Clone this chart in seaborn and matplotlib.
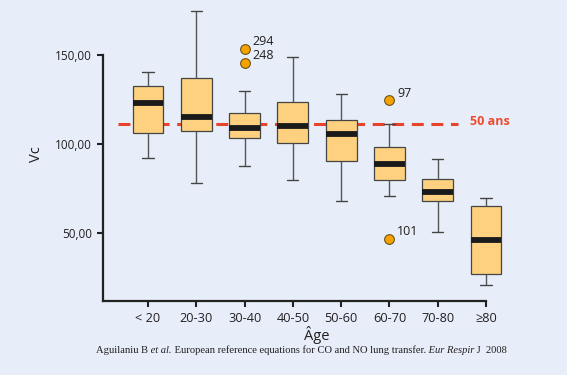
import matplotlib
matplotlib.use("Agg")
import matplotlib.pyplot as plt
import seaborn as sns
import pandas as pd
import numpy as np

# five-number summaries (Vc by age class)
age_groups = ["< 20", "20-30", "30-40", "40-50", "50-60", "60-70", "70-80", "≥80"]
whisker_low = [92.3, 78.3, 87.8, 79.6, 67.8, 71.0, 50.4, 20.9]
q1 = [106.0, 107.1, 103.4, 100.4, 90.6, 79.9, 67.8, 27.1]
median = [122.9, 115.2, 109.2, 110.1, 105.6, 88.8, 72.9, 46.1]
q3 = [132.4, 136.9, 117.6, 123.8, 113.3, 98.1, 80.3, 65.3]
whisker_high = [140.6, 174.6, 129.6, 149.0, 127.9, 111.2, 91.7, 69.8]

outlier_group = ["30-40", "30-40", "60-70", "60-70"]
outlier_value = [153.6, 145.7, 124.7, 46.8]
outlier_id = ["294", "248", "97", "101"]

ref_value = 111.1
ref_label = "50 ans"
y_ticks = [50, 100, 150]
y_tick_labels = ["50,00", "100,00", "150,00"]

bg = "#E7EEF9"
ink = "#231F20"

sns.set_style("ticks", {"axes.facecolor": bg, "figure.facecolor": bg})
plt.rcParams["font.family"] = ["Open Sans", "Noto Sans", "DejaVu Sans"]

# rebuild a sample per group that gives back the read quartiles/whiskers
rows = []
for g, lo, a, m, b, hi in zip(age_groups, whisker_low, q1, median, q3, whisker_high):
    vals = [lo] + [a] * 20 + [m] * 20 + [b] * 20 + [hi]
    rows += [(g, v) for v in vals]
for g, v in zip(outlier_group, outlier_value):
    rows.append((g, v))
df = pd.DataFrame(rows, columns=["age", "vc"])

fig = plt.figure(figsize=(5.67, 3.75), dpi=100)
ax = fig.add_axes([103 / 567, 1 - 301 / 375, 427 / 567, 293 / 375])

sns.boxplot(data=df, x="age", y="vc", order=age_groups, whis=1.4, width=0.64,
            color="#FDD180", saturation=1, linecolor="#454545", linewidth=0.9,
            medianprops=dict(color="#1a1a1a", linewidth=4.2),
            whiskerprops=dict(color="#555555", linewidth=1.0),
            capprops=dict(color="#444444", linewidth=1.0),
            flierprops=dict(marker="o", markersize=7, markerfacecolor="#F4A300",
                            markeredgecolor="#6a5220", markeredgewidth=0.8),
            capwidths=0.23, ax=ax)

ax.plot([-0.62, 6.42], [ref_value, ref_value], color="#E8432C", lw=2.2,
        linestyle=(0, (3.9, 2.5)), zorder=0.5)
ax.text(6.67, 110.7, ref_label, color="#EE4A30", fontsize=9, fontweight="bold",
        ha="left", va="baseline")

for g, v, t in zip(outlier_group, outlier_value, outlier_id):
    ax.annotate(t, (age_groups.index(g), v), xytext=(5.5, 5), textcoords="offset points",
                ha="left", va="center", fontsize=9, color=ink)

ax.set_xlim(-0.932, 7.911)
ax.set_ylim(11.8, 176.4)
ax.set_yticks(y_ticks)
ax.set_yticklabels(y_tick_labels)
ax.spines["left"].set_bounds(11.8, 150)
ax.spines["bottom"].set_bounds(-0.932, 7)
for s in ["top", "right"]:
    ax.spines[s].set_visible(False)
for s in ["left", "bottom"]:
    ax.spines[s].set_linewidth(1.6)
    ax.spines[s].set_color("#222222")
ax.tick_params(length=4, width=1.5, color="#222222", labelcolor=ink, pad=4)
ax.tick_params(axis="y", labelsize=8.5)
ax.tick_params(axis="x", labelsize=9.2)
ax.set_xlabel("Âge", fontsize=10.5, color=ink, labelpad=1)
ax.set_ylabel("Vc", fontsize=10.5, color=ink, labelpad=8)

# caption with italic pieces
caption = [("Aguilaniu B", "normal"), (" et al.", "italic"),
           (" European reference equations for CO and NO lung transfer.", "normal"),
           (" Eur Respir", "italic"), (" J  2008", "normal")]
renderer = fig.canvas.get_renderer()
texts = []
for piece, style in caption:
    t = fig.text(0, 1 - 353 / 375, piece, fontsize=7.6, fontstyle=style,
                 family="Liberation Serif", color=ink, va="baseline", ha="left")
    texts.append(t)
widths = [t.get_window_extent(renderer).width for t in texts]
x = 301.5 - sum(widths) / 2
for t, w in zip(texts, widths):
    t.set_x(x / 567)
    x += w

fig.savefig("out.png", dpi=100, facecolor=bg)
